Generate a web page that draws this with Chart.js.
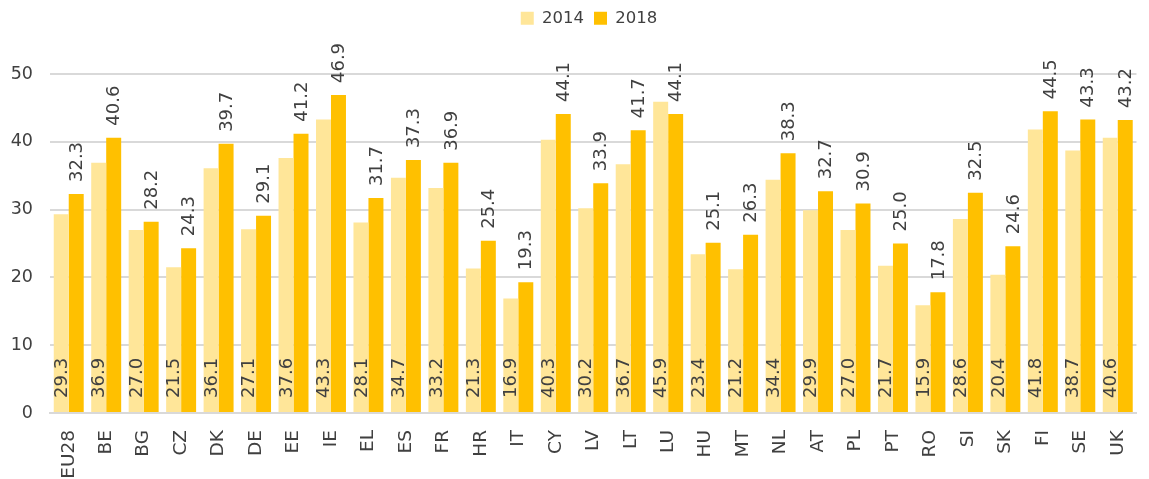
<!DOCTYPE html>
<html>
<head>
<meta charset="utf-8">
<script src="https://cdn.jsdelivr.net/npm/chart.js@4"></script>
<style>
  body { margin: 0; background: #fff; }
  #wrap { width: 1149px; height: 479px; }
</style>
</head>
<body>
<div id="wrap"><canvas id="chart"></canvas></div>
<script>
const countries = ["EU28", "BE", "BG", "CZ", "DK", "DE", "EE", "IE", "EL", "ES", "FR", "HR", "IT", "CY", "LV",
  "LT", "LU", "HU", "MT", "NL", "AT", "PL", "PT", "RO", "SI", "SK", "FI", "SE", "UK"];
const values2014 = [29.3, 36.9, 27.0, 21.5, 36.1, 27.1, 37.6, 43.3, 28.1, 34.7, 33.2, 21.3, 16.9, 40.3, 30.2,
  36.7, 45.9, 23.4, 21.2, 34.4, 29.9, 27.0, 21.7, 15.9, 28.6, 20.4, 41.8, 38.7, 40.6];
const values2018 = [32.3, 40.6, 28.2, 24.3, 39.7, 29.1, 41.2, 46.9, 31.7, 37.3, 36.9, 25.4, 19.3, 44.1, 33.9,
  41.7, 44.1, 25.1, 26.3, 38.3, 32.7, 30.9, 25.0, 17.8, 32.5, 24.6, 44.5, 43.3, 43.2];
const yTicks = [0, 10, 20, 30, 40, 50];

const FONT = "'DejaVu Sans', Verdana, sans-serif";

// value labels: 2014 inside bar at the base, 2018 above the bar, both rotated
const valueLabels = {
  id: "valueLabels",
  afterDatasetsDraw(chart) {
    const ctx = chart.ctx;
    ctx.save();
    ctx.font = "18px " + FONT;
    ctx.fillStyle = "#404040";
    ctx.textAlign = "left";
    ctx.textBaseline = "middle";
    chart.data.datasets.forEach((ds, i) => {
      chart.getDatasetMeta(i).data.forEach((bar, j) => {
        const txt = ds.data[j].toFixed(1);
        ctx.save();
        if (i === 0) ctx.translate(bar.x, bar.base - 14);
        else ctx.translate(bar.x, bar.y - 12);
        ctx.rotate(-Math.PI / 2);
        ctx.fillText(txt, 0, 1);
        ctx.restore();
      });
    });
    ctx.restore();
  }
};

// fixed legend band height, legend shifted a little to the right like the original
const legendHeight = {
  id: "legendHeight",
  beforeInit(chart) {
    const fit = chart.legend.fit;
    chart.legend.fit = function () {
      fit.call(this);
      this.height = 74;
    };
  },
  afterLayout(chart) {
    chart.legend.left += 16;
    chart.legend.right += 16;
  }
};

new Chart(document.getElementById("chart"), {
  type: "bar",
  data: {
    labels: countries,
    datasets: [
      { label: "2014", data: values2014, backgroundColor: "#FFE699" },
      { label: "2018", data: values2018, backgroundColor: "#FFC000" }
    ]
  },
  options: {
    responsive: true,
    maintainAspectRatio: false,
    animation: false,
    datasets: { bar: { categoryPercentage: 0.8, barPercentage: 1.0 } },
    layout: { padding: { left: 0, right: 3, top: 0, bottom: 0 } },
    plugins: {
      legend: {
        position: "top",
        labels: {
          boxWidth: 13, boxHeight: 13, padding: 10,
          color: "#404040",
          font: { family: FONT, size: 16.5 }
        }
      },
      tooltip: { enabled: false }
    },
    scales: {
      x: {
        grid: { display: false },
        border: { color: "#d9d9d9", width: 2 },
        ticks: {
          color: "#404040", padding: 9, maxRotation: 90, minRotation: 90, autoSkip: false,
          font: { family: FONT, size: 18.5 }
        },
        afterFit(scale) { scale.height = 66; }
      },
      y: {
        min: 0, max: 50,
        grid: { color: "#d9d9d9", lineWidth: 2, drawTicks: false },
        border: { display: false },
        afterBuildTicks(scale) { scale.ticks = yTicks.map(v => ({ value: v })); },
        ticks: {
          color: "#404040", padding: 17,
          font: { family: FONT, size: 17.5 }
        },
        afterFit(scale) { scale.width = 50; }
      }
    }
  },
  plugins: [valueLabels, legendHeight]
});
</script>
</body>
</html>
